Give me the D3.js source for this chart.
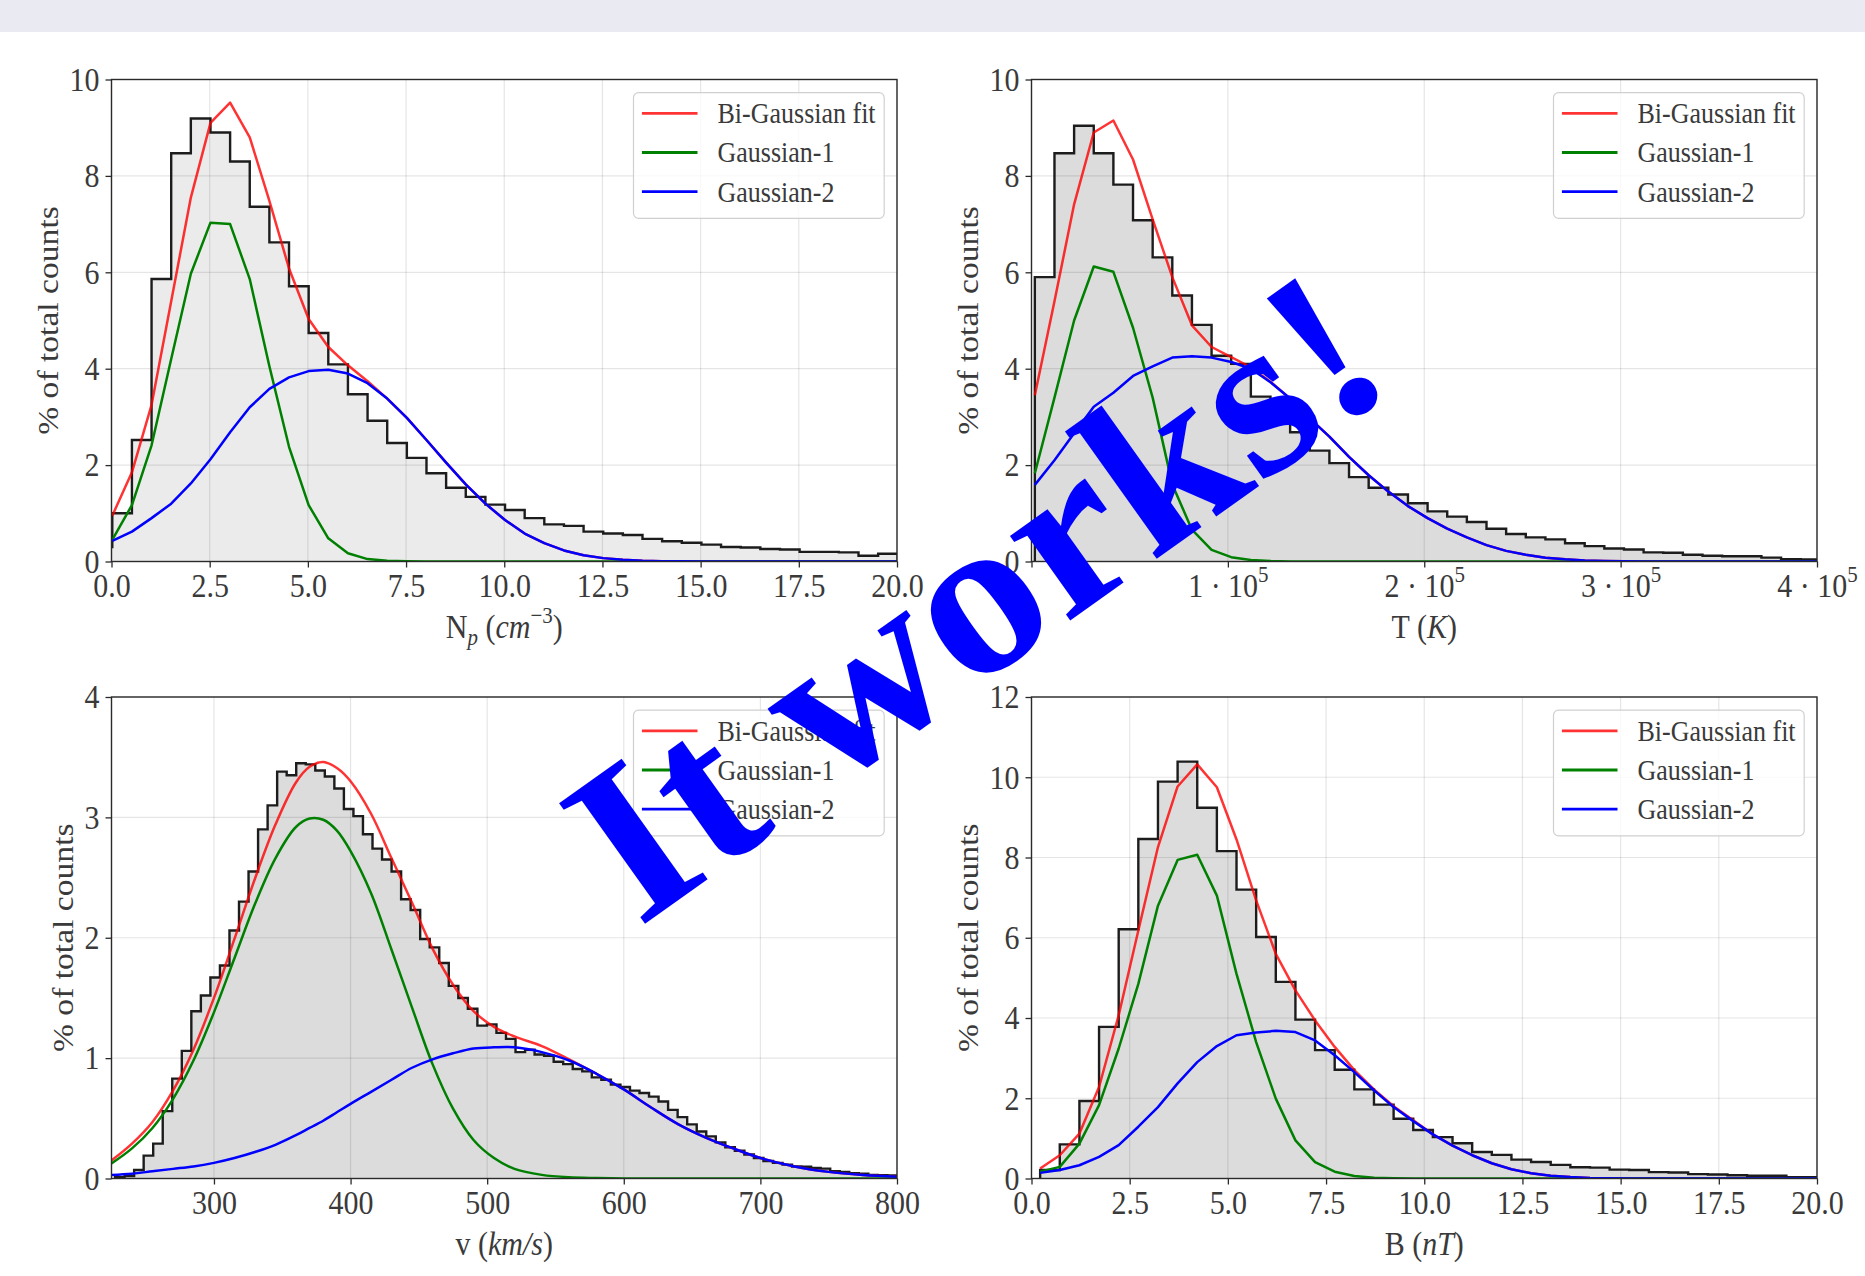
<!DOCTYPE html>
<html><head><meta charset="utf-8">
<script src="https://cdn.jsdelivr.net/npm/d3@7"></script>
<style>body{margin:0;background:#fff}svg{display:block}</style>
</head><body>
<svg id="c" width="1865" height="1276"></svg>
<script>
// ---------------- DATA ----------------
// Panel 1: proton density Np (cm^-3)
const npBinStart = -0.48, npBinWidth = 0.5;
const npHist = [0.3,1.0,2.52,5.86,8.47,9.19,8.90,8.30,7.36,6.62,5.71,4.74,4.09,3.47,2.92,2.46,2.15,1.83,1.53,1.34,1.18,1.07,0.90,0.77,0.74,0.62,0.58,0.55,0.47,0.42,0.39,0.35,0.30,0.29,0.26,0.25,0.20,0.20,0.19,0.12,0.16];
const npCurveStart = 0.02, npCurveStep = 0.5;
const npFit = [0.95,1.85,3.25,5.4,7.55,9.1,9.52,8.8,7.48,6.08,5.03,4.45,4.07,3.74,3.38,2.98,2.52,2.05,1.6,1.2,0.86,0.58,0.38,0.23,0.13,0.07,0.035,0.015,0.006,0.003,0.001,0,0,0,0,0,0,0,0,0,0];
const npG1 = [0.45,1.17,2.41,4.2,5.97,7.03,7.0,5.86,4.05,2.38,1.17,0.48,0.17,0.05,0.015,0.004,0.001,0,0,0,0,0,0,0,0,0,0,0,0,0,0,0,0,0,0,0,0,0,0,0,0];
const npG2 = [0.43,0.62,0.9,1.2,1.62,2.12,2.68,3.2,3.58,3.82,3.95,3.98,3.9,3.7,3.38,2.98,2.52,2.05,1.6,1.2,0.86,0.58,0.38,0.23,0.13,0.07,0.035,0.015,0.006,0.003,0.001,0,0,0,0,0,0,0,0,0,0];
const npXTicks = [0,2.5,5,7.5,10,12.5,15,17.5,20];
const npYTicks = [0,2,4,6,8,10];

// Panel 2: temperature T (K)
const tBinStart = 1700, tBinWidth = 10000;
const tHist = [5.9,8.47,9.04,8.47,7.82,7.08,6.31,5.52,4.91,4.27,4.1,3.42,3.2,2.68,2.3,2.04,1.75,1.53,1.39,1.21,1.04,0.93,0.82,0.68,0.57,0.5,0.46,0.38,0.32,0.27,0.25,0.19,0.18,0.14,0.12,0.11,0.11,0.08,0.05,0.04];
const tCurveStart = 1700, tCurveStep = 10000;
const tFit = [3.45,5.4,7.41,8.9,9.15,8.34,7.1,5.9,4.9,4.45,4.24,4.03,3.73,3.38,2.97,2.59,2.17,1.79,1.45,1.15,0.9,0.68,0.5,0.34,0.22,0.14,0.08,0.045,0.02,0.01,0.005,0,0,0,0,0,0,0,0,0,0];
const tG1 = [1.83,3.4,5.0,6.12,6.01,4.85,3.4,1.6,0.66,0.24,0.09,0.03,0.01,0,0,0,0,0,0,0,0,0,0,0,0,0,0,0,0,0,0,0,0,0,0,0,0,0,0,0,0];
const tG2 = [1.59,2.1,2.66,3.21,3.5,3.85,4.05,4.23,4.26,4.23,4.14,4.0,3.72,3.38,2.97,2.59,2.17,1.79,1.45,1.15,0.9,0.68,0.5,0.34,0.22,0.14,0.08,0.045,0.02,0.01,0.005,0,0,0,0,0,0,0,0,0,0];
const tXTicks = [0,100000,200000,300000,400000];
const tYTicks = [0,2,4,6,8,10];

// Panel 3: speed v (km/s)
const vBinStart = 227.6, vBinWidth = 6.98;
const vHist = [0.01,0.02,0.07,0.19,0.29,0.56,0.83,1.06,1.39,1.52,1.67,1.77,2.06,2.30,2.55,2.90,3.10,3.38,3.35,3.45,3.44,3.39,3.34,3.24,3.07,3.01,2.86,2.74,2.65,2.55,2.32,2.23,1.99,1.92,1.79,1.60,1.50,1.41,1.27,1.28,1.21,1.16,1.05,1.07,1.03,1.02,0.97,0.95,0.91,0.89,0.84,0.82,0.78,0.76,0.73,0.71,0.68,0.64,0.57,0.51,0.45,0.39,0.35,0.30,0.26,0.23,0.20,0.17,0.145,0.13,0.115,0.10,0.097,0.087,0.082,0.06,0.055,0.045,0.04,0.03,0.028,0.025];
const vCurveX = [225,240,255,270,285,300,315,330,345,360,370,380,390,400,415,430,445,460,475,490,505,520,540,560,580,600,620,640,660,680,700,725,750,775,800];
const vFit = [0.15,0.29,0.47,0.73,1.07,1.50,1.99,2.49,2.94,3.29,3.42,3.46,3.41,3.30,3.03,2.66,2.29,1.91,1.61,1.39,1.26,1.18,1.10,0.99,0.87,0.74,0.59,0.45,0.34,0.25,0.17,0.10,0.055,0.03,0.015];
const vG1 = [0.125,0.25,0.42,0.66,0.98,1.38,1.83,2.28,2.66,2.92,2.99,2.98,2.89,2.72,2.37,1.90,1.42,0.95,0.58,0.32,0.17,0.08,0.03,0.01,0.004,0.001,0,0,0,0,0,0,0,0,0];
const vG2 = [0.03,0.04,0.06,0.08,0.10,0.13,0.17,0.22,0.28,0.36,0.42,0.48,0.55,0.62,0.72,0.82,0.92,0.99,1.04,1.08,1.09,1.09,1.05,0.98,0.87,0.74,0.59,0.45,0.34,0.25,0.17,0.10,0.055,0.03,0.015];
const vXTicks = [300,400,500,600,700,800];
const vYTicks = [0,1,2,3,4];

// Panel 4: magnetic field B (nT)
const bBinStart = 0.22, bBinWidth = 0.5;
const bHist = [0.21,0.85,1.93,3.78,6.21,8.46,9.89,10.39,9.24,8.16,7.20,6.02,4.90,3.96,3.20,2.71,2.22,1.84,1.49,1.21,1.03,0.88,0.66,0.59,0.47,0.41,0.34,0.28,0.27,0.22,0.21,0.16,0.15,0.11,0.10,0.08,0.07,0.07,0.03,0.03];
const bCurveStart = 0.22, bCurveStep = 0.5;
const bFit = [0.25,0.58,1.12,2.28,4.07,6.18,8.26,9.77,10.32,9.75,8.45,6.93,5.6,4.69,3.94,3.28,2.7,2.22,1.8,1.45,1.1,0.82,0.58,0.38,0.23,0.13,0.07,0.035,0.015,0.007,0.003,0,0,0,0,0,0,0,0,0,0];
const bG1 = [0.17,0.29,0.87,1.83,3.24,4.85,6.8,7.94,8.07,7.05,5.1,3.4,1.99,0.95,0.41,0.17,0.06,0.02,0.005,0,0,0,0,0,0,0,0,0,0,0,0,0,0,0,0,0,0,0,0,0,0];
const bG2 = [0.14,0.21,0.33,0.54,0.83,1.29,1.78,2.37,2.9,3.3,3.57,3.64,3.68,3.65,3.44,3.07,2.65,2.2,1.78,1.43,1.1,0.82,0.58,0.38,0.23,0.13,0.07,0.035,0.015,0.007,0.003,0,0,0,0,0,0,0,0,0,0];
const bXTicks = [0,2.5,5,7.5,10,12.5,15,17.5,20];
const bYTicks = [0,2,4,6,8,10,12];

const legendLabels = ["Bi-Gaussian fit", "Gaussian-1", "Gaussian-2"];
const yLabelText = "% of total counts";
const watermarkText = "It works!";

// ---------------- STYLE / LAYOUT ----------------
const FONT = "'Liberation Serif','Times New Roman',serif";
const TXT = "#3a3a3a";
const SY = 1.12;            // vertical stretch of glyphs in reference
const colors = {fit: "#ff0000", g1: "#008000", g2: "#0000ff"};

const svg = d3.select("#c");
svg.append("rect").attr("x",0).attr("y",0).attr("width",1865).attr("height",32).attr("fill","#eaeaf2");

function seq(start, step, n){ return d3.range(n).map(i => start + i*step); }

function rich(textSel, parts, fs){
  let shift = 0;
  parts.forEach(p => {
    const t = textSel.append("tspan").text(p.t);
    let target = 0, size = fs;
    if (p.sup){ target = -fs*0.42; size = fs*0.7; }
    if (p.sub){ target = fs*0.22; size = fs*0.7; }
    t.attr("font-size", size);
    if (p.it) t.attr("font-style","italic");
    const dy = target - shift;
    if (dy !== 0) t.attr("dy", dy);
    shift = target;
  });
}

function drawPanel(p){
  const {x0,x1,y0,y1} = p.box;
  const g = svg.append("g");
  const x = d3.scaleLinear().domain(p.xDomain).range([x0,x1]);
  const y = d3.scaleLinear().domain(p.yDomain).range([y1,y0]);
  const cid = "clip"+p.id;
  svg.append("clipPath").attr("id",cid).append("rect")
    .attr("x",x0).attr("y",y0).attr("width",x1-x0).attr("height",y1-y0);

  const pts = [{x:p.binStart, y:0}];
  p.hist.forEach((v,i) => pts.push({x:p.binStart+i*p.binWidth, y:v}));
  pts.push({x:p.binStart+p.hist.length*p.binWidth, y:0});

  const plot = g.append("g").attr("clip-path",`url(#${cid})`);
  plot.append("path").datum(pts)
    .attr("d", d3.area().x(d=>x(d.x)).y0(y(0)).y1(d=>y(d.y)).curve(d3.curveStepAfter))
    .attr("fill", p.fill);

  // grid
  const grid = g.append("g").attr("stroke","#000").attr("stroke-opacity",0.1).attr("stroke-width",1.2);
  p.xTicks.forEach(t => grid.append("line").attr("x1",x(t)).attr("x2",x(t)).attr("y1",y0).attr("y2",y1));
  p.yTicks.forEach(t => grid.append("line").attr("x1",x0).attr("x2",x1).attr("y1",y(t)).attr("y2",y(t)));

  const plot2 = g.append("g").attr("clip-path",`url(#${cid})`);
  plot2.append("path").datum(pts)
    .attr("d", d3.line().x(d=>x(d.x)).y(d=>y(d.y)).curve(d3.curveStepAfter))
    .attr("fill","none").attr("stroke","#1c1c1c").attr("stroke-width",2.4);

  const cv = p.smooth ? d3.curveCatmullRom.alpha(0.5) : d3.curveLinear;
  const line = d3.line().x(d=>x(d[0])).y(d=>y(d[1])).curve(cv);
  [["fit",p.fit,0.8],["g1",p.g1,1],["g2",p.g2,1]].forEach(([k,vals,op]) => {
    plot2.append("path").datum(p.cx.map((xx,i)=>[xx,vals[i]]))
      .attr("d", line).attr("fill","none").attr("stroke",colors[k])
      .attr("stroke-opacity",op).attr("stroke-width",2.5).attr("stroke-linejoin","round");
  });

  // spines
  g.append("rect").attr("x",x0).attr("y",y0).attr("width",x1-x0).attr("height",y1-y0)
    .attr("fill","none").attr("stroke","#2a2a2a").attr("stroke-width",1.4);

  // axes
  const xa = g.append("g").attr("transform",`translate(0,${y1})`)
    .call(d3.axisBottom(x).tickValues(p.xTicks).tickSize(6).tickSizeOuter(0).tickFormat(()=>""));
  xa.select(".domain").remove();
  xa.attr("color","#2a2a2a").attr("font-family",FONT).attr("font-size",30);
  xa.selectAll(".tick line").attr("stroke-width",1.3);
  xa.selectAll(".tick text").each(function(d){
    const t = d3.select(this).attr("y",null).attr("dy",null)
      .attr("transform",`translate(0,35) scale(1,${SY})`).attr("fill",TXT);
    rich(t, p.xFmt(d), 30);
  });

  const ya = g.append("g").attr("transform",`translate(${x0},0)`)
    .call(d3.axisLeft(y).tickValues(p.yTicks).tickSize(6).tickSizeOuter(0).tickFormat(d=>String(d)));
  ya.select(".domain").remove();
  ya.attr("color","#2a2a2a").attr("font-family",FONT).attr("font-size",30);
  ya.selectAll(".tick line").attr("stroke-width",1.3);
  ya.selectAll(".tick text").attr("x",null).attr("dy","0.32em")
    .attr("transform",`translate(-12,0) scale(1,${SY})`).attr("fill",TXT);

  // y label
  g.append("text").attr("font-family",FONT).attr("font-size",30).attr("fill",TXT)
    .attr("text-anchor","middle")
    .attr("transform",`translate(${x0-p.yLabOff},${(y0+y1)/2}) scale(1,${SY}) rotate(-90)`)
    .text(yLabelText);

  // x label
  const xl = g.append("text").attr("font-family",FONT).attr("font-size",30).attr("fill",TXT)
    .attr("text-anchor","middle")
    .attr("transform",`translate(${(x0+x1)/2},${y1+76}) scale(1,${SY})`);
  rich(xl, p.xLabel, 30);

  // legend
  const lx = x1-263.5, ly = y0+13.2;
  const lg = g.append("g");
  lg.append("rect").attr("x",lx).attr("y",ly).attr("width",250.7).attr("height",125.6)
    .attr("rx",5).attr("fill","#fff").attr("fill-opacity",0.8)
    .attr("stroke","#d0d0d0").attr("stroke-width",1.2);
  ["fit","g1","g2"].forEach((k,i) => {
    const yy = ly + 20.6 + i*39.2;
    lg.append("line").attr("x1",lx+8.4).attr("x2",lx+64).attr("y1",yy).attr("y2",yy)
      .attr("stroke",colors[k]).attr("stroke-opacity",k==="fit"?0.8:1).attr("stroke-width",2.8);
    lg.append("text").attr("font-family",FONT).attr("font-size",26).attr("fill",TXT)
      .attr("dy","0.34em")
      .attr("transform",`translate(${lx+84},${yy}) scale(1,${SY})`)
      .text(legendLabels[i]);
  });
}

const L = {x0:111.5, x1:897}, R = {x0:1031.5, x1:1817};
const TOP = {y0:79.5, y1:561.5}, BOT = {y0:697, y1:1178.5};
const numFmt = d => [{t: d.toFixed(1)}];

drawPanel({id:1, box:{...L,...TOP}, xDomain:[0,20], yDomain:[0,10], fill:"#ebebeb",
  binStart:npBinStart, binWidth:npBinWidth, hist:npHist,
  cx: seq(npCurveStart,npCurveStep,npFit.length), fit:npFit, g1:npG1, g2:npG2,
  xTicks:npXTicks, yTicks:npYTicks, xFmt:numFmt, yLabOff:53.5,
  xLabel:[{t:"N"},{t:"p",sub:true,it:true},{t:" ("},{t:"cm",it:true},{t:"−3",sup:true},{t:")"}]});

drawPanel({id:2, box:{...R,...TOP}, xDomain:[0,400000], yDomain:[0,10], fill:"#dcdcdc",
  binStart:tBinStart, binWidth:tBinWidth, hist:tHist,
  cx: seq(tCurveStart,tCurveStep,tFit.length), fit:tFit, g1:tG1, g2:tG2,
  xTicks:tXTicks, yTicks:tYTicks, yLabOff:53.5,
  xFmt: d => d===0 ? [] : [{t:`${d/100000} · 10`},{t:"5",sup:true}],
  xLabel:[{t:"T ("},{t:"K",it:true},{t:")"}]});

drawPanel({id:3, box:{...L,...BOT}, xDomain:[225,800], yDomain:[0,4], fill:"#dcdcdc", smooth:true,
  binStart:vBinStart, binWidth:vBinWidth, hist:vHist,
  cx: vCurveX, fit:vFit, g1:vG1, g2:vG2,
  xTicks:vXTicks, yTicks:vYTicks, yLabOff:38.5, xFmt: d => [{t:String(d)}],
  xLabel:[{t:"v ("},{t:"km/s",it:true},{t:")"}]});

drawPanel({id:4, box:{...R,...BOT}, xDomain:[0,20], yDomain:[0,12], fill:"#dcdcdc",
  binStart:bBinStart, binWidth:bBinWidth, hist:bHist,
  cx: seq(bCurveStart,bCurveStep,bFit.length), fit:bFit, g1:bG1, g2:bG2,
  xTicks:bXTicks, yTicks:bYTicks, yLabOff:53.5, xFmt:numFmt,
  xLabel:[{t:"B ("},{t:"nT",it:true},{t:")"}]});

// watermark
svg.append("text").attr("font-family",FONT).attr("font-weight","bold").attr("font-size",226)
  .attr("fill","#0000ff").attr("text-anchor","middle")
  .attr("textLength",935).attr("lengthAdjust","spacingAndGlyphs")
  .attr("transform","translate(1019,657) rotate(-35.5)")
  .text(watermarkText);
</script>
</body></html>
